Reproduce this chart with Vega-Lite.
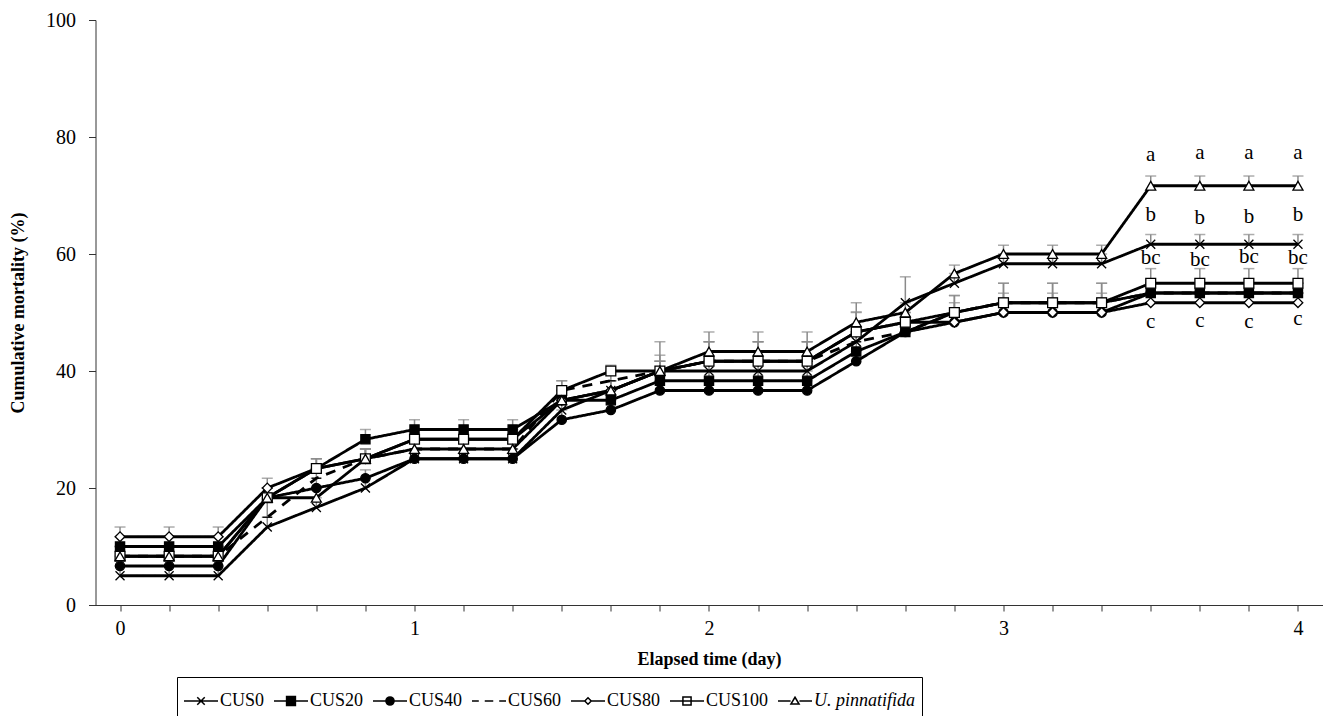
{
  "$schema": "https://vega.github.io/schema/vega-lite/v6.json",
  "width": 1227,
  "height": 585,
  "autosize": {"type": "none"},
  "padding": {"left": 95.5, "top": 20, "right": 5.5, "bottom": 111},
  "background": "white",
  "config": {
    "view": {"stroke": null},
    "font": "Liberation Serif",
    "axis": {
      "labelFont": "Liberation Serif",
      "titleFont": "Liberation Serif",
      "labelColor": "black",
      "titleColor": "black",
      "domainColor": "#333333",
      "tickColor": "#333333",
      "grid": false
    }
  },
  "datasets": {
    "main": [
      {"s":"CUS0","d":0,"v":5,"hi":6.67},{"s":"CUS0","d":0.1667,"v":5,"hi":6.67},{"s":"CUS0","d":0.3333,"v":5,"hi":6.67},{"s":"CUS0","d":0.5,"v":13.33,"hi":15},{"s":"CUS0","d":0.6667,"v":16.67,"hi":18.33},{"s":"CUS0","d":0.8333,"v":20,"hi":21.67},{"s":"CUS0","d":1,"v":25,"hi":26.67},{"s":"CUS0","d":1.1667,"v":25,"hi":26.67},{"s":"CUS0","d":1.3333,"v":25,"hi":26.67},{"s":"CUS0","d":1.5,"v":33.33,"hi":35},{"s":"CUS0","d":1.6667,"v":36.67,"hi":38.33},{"s":"CUS0","d":1.8333,"v":40,"hi":45},{"s":"CUS0","d":2,"v":40,"hi":41.67},{"s":"CUS0","d":2.1667,"v":40,"hi":41.67},{"s":"CUS0","d":2.3333,"v":40,"hi":41.67},{"s":"CUS0","d":2.5,"v":45,"hi":46.67},{"s":"CUS0","d":2.6667,"v":51.67,"hi":56.1},{"s":"CUS0","d":2.8333,"v":55,"hi":56.67},{"s":"CUS0","d":3,"v":58.33,"hi":60},{"s":"CUS0","d":3.1667,"v":58.33,"hi":60},{"s":"CUS0","d":3.3333,"v":58.33,"hi":60},{"s":"CUS0","d":3.5,"v":61.67,"hi":63.33},{"s":"CUS0","d":3.6667,"v":61.67,"hi":63.33},{"s":"CUS0","d":3.8333,"v":61.67,"hi":63.33},{"s":"CUS0","d":4,"v":61.67,"hi":63.33},
      {"s":"CUS20","d":0,"v":10,"hi":11.67},{"s":"CUS20","d":0.1667,"v":10,"hi":11.67},{"s":"CUS20","d":0.3333,"v":10,"hi":11.67},{"s":"CUS20","d":0.5,"v":18.33,"hi":20},{"s":"CUS20","d":0.6667,"v":23.33,"hi":25},{"s":"CUS20","d":0.8333,"v":28.33,"hi":30},{"s":"CUS20","d":1,"v":30,"hi":31.67},{"s":"CUS20","d":1.1667,"v":30,"hi":31.67},{"s":"CUS20","d":1.3333,"v":30,"hi":31.67},{"s":"CUS20","d":1.5,"v":35,"hi":36.67},{"s":"CUS20","d":1.6667,"v":35,"hi":36.67},{"s":"CUS20","d":1.8333,"v":38.33,"hi":40},{"s":"CUS20","d":2,"v":38.33,"hi":40},{"s":"CUS20","d":2.1667,"v":38.33,"hi":40},{"s":"CUS20","d":2.3333,"v":38.33,"hi":40},{"s":"CUS20","d":2.5,"v":43.33,"hi":45},{"s":"CUS20","d":2.6667,"v":46.67,"hi":48.33},{"s":"CUS20","d":2.8333,"v":50,"hi":52.9},{"s":"CUS20","d":3,"v":51.67,"hi":55},{"s":"CUS20","d":3.1667,"v":51.67,"hi":55},{"s":"CUS20","d":3.3333,"v":51.67,"hi":55},{"s":"CUS20","d":3.5,"v":53.33,"hi":55},{"s":"CUS20","d":3.6667,"v":53.33,"hi":55},{"s":"CUS20","d":3.8333,"v":53.33,"hi":55},{"s":"CUS20","d":4,"v":53.33,"hi":55},
      {"s":"CUS40","d":0,"v":6.67,"hi":8.33},{"s":"CUS40","d":0.1667,"v":6.67,"hi":8.33},{"s":"CUS40","d":0.3333,"v":6.67,"hi":8.33},{"s":"CUS40","d":0.5,"v":18.33,"hi":20},{"s":"CUS40","d":0.6667,"v":20,"hi":21.67},{"s":"CUS40","d":0.8333,"v":21.67,"hi":23.1},{"s":"CUS40","d":1,"v":25,"hi":26.67},{"s":"CUS40","d":1.1667,"v":25,"hi":26.67},{"s":"CUS40","d":1.3333,"v":25,"hi":26.67},{"s":"CUS40","d":1.5,"v":31.67,"hi":33.33},{"s":"CUS40","d":1.6667,"v":33.33,"hi":35},{"s":"CUS40","d":1.8333,"v":36.67,"hi":38.33},{"s":"CUS40","d":2,"v":36.67,"hi":38.33},{"s":"CUS40","d":2.1667,"v":36.67,"hi":38.33},{"s":"CUS40","d":2.3333,"v":36.67,"hi":38.33},{"s":"CUS40","d":2.5,"v":41.67,"hi":43.33},{"s":"CUS40","d":2.6667,"v":46.67,"hi":48.33},{"s":"CUS40","d":2.8333,"v":48.33,"hi":50},{"s":"CUS40","d":3,"v":50,"hi":51.67},{"s":"CUS40","d":3.1667,"v":50,"hi":51.67},{"s":"CUS40","d":3.3333,"v":50,"hi":51.67},{"s":"CUS40","d":3.5,"v":53.33,"hi":55},{"s":"CUS40","d":3.6667,"v":53.33,"hi":55},{"s":"CUS40","d":3.8333,"v":53.33,"hi":55},{"s":"CUS40","d":4,"v":53.33,"hi":55},
      {"s":"CUS60","d":0,"v":8.33,"hi":10},{"s":"CUS60","d":0.1667,"v":8.33,"hi":10},{"s":"CUS60","d":0.3333,"v":8.33,"hi":10},{"s":"CUS60","d":0.5,"v":15,"hi":18.33},{"s":"CUS60","d":0.6667,"v":21.67,"hi":23.33},{"s":"CUS60","d":0.8333,"v":25,"hi":26.67},{"s":"CUS60","d":1,"v":26.67,"hi":28.33},{"s":"CUS60","d":1.1667,"v":26.67,"hi":28.33},{"s":"CUS60","d":1.3333,"v":26.67,"hi":28.33},{"s":"CUS60","d":1.5,"v":36.67,"hi":38.33},{"s":"CUS60","d":1.6667,"v":38.33,"hi":40},{"s":"CUS60","d":1.8333,"v":40,"hi":42.7},{"s":"CUS60","d":2,"v":41.67,"hi":45},{"s":"CUS60","d":2.1667,"v":41.67,"hi":45},{"s":"CUS60","d":2.3333,"v":41.67,"hi":45},{"s":"CUS60","d":2.5,"v":45,"hi":46.67},{"s":"CUS60","d":2.6667,"v":46.67,"hi":48.33},{"s":"CUS60","d":2.8333,"v":50,"hi":51.67},{"s":"CUS60","d":3,"v":51.67,"hi":53.3},{"s":"CUS60","d":3.1667,"v":51.67,"hi":53.3},{"s":"CUS60","d":3.3333,"v":51.67,"hi":53.3},{"s":"CUS60","d":3.5,"v":53.33,"hi":55},{"s":"CUS60","d":3.6667,"v":53.33,"hi":55},{"s":"CUS60","d":3.8333,"v":53.33,"hi":55},{"s":"CUS60","d":4,"v":53.33,"hi":55},
      {"s":"CUS80","d":0,"v":11.67,"hi":13.33},{"s":"CUS80","d":0.1667,"v":11.67,"hi":13.33},{"s":"CUS80","d":0.3333,"v":11.67,"hi":13.33},{"s":"CUS80","d":0.5,"v":20,"hi":21.67},{"s":"CUS80","d":0.6667,"v":23.33,"hi":25},{"s":"CUS80","d":0.8333,"v":25,"hi":26.67},{"s":"CUS80","d":1,"v":28.33,"hi":30},{"s":"CUS80","d":1.1667,"v":28.33,"hi":30},{"s":"CUS80","d":1.3333,"v":28.33,"hi":30},{"s":"CUS80","d":1.5,"v":35,"hi":36.67},{"s":"CUS80","d":1.6667,"v":36.67,"hi":38.33},{"s":"CUS80","d":1.8333,"v":40,"hi":41.67},{"s":"CUS80","d":2,"v":41.67,"hi":45},{"s":"CUS80","d":2.1667,"v":41.67,"hi":45},{"s":"CUS80","d":2.3333,"v":41.67,"hi":45},{"s":"CUS80","d":2.5,"v":46.67,"hi":50},{"s":"CUS80","d":2.6667,"v":48.33,"hi":50},{"s":"CUS80","d":2.8333,"v":48.33,"hi":50},{"s":"CUS80","d":3,"v":50,"hi":51.67},{"s":"CUS80","d":3.1667,"v":50,"hi":51.67},{"s":"CUS80","d":3.3333,"v":50,"hi":51.67},{"s":"CUS80","d":3.5,"v":51.67,"hi":53.33},{"s":"CUS80","d":3.6667,"v":51.67,"hi":53.33},{"s":"CUS80","d":3.8333,"v":51.67,"hi":53.33},{"s":"CUS80","d":4,"v":51.67,"hi":53.33},
      {"s":"CUS100","d":0,"v":8.33,"hi":10},{"s":"CUS100","d":0.1667,"v":8.33,"hi":10},{"s":"CUS100","d":0.3333,"v":8.33,"hi":10},{"s":"CUS100","d":0.5,"v":18.33,"hi":20},{"s":"CUS100","d":0.6667,"v":23.33,"hi":25},{"s":"CUS100","d":0.8333,"v":25,"hi":26.67},{"s":"CUS100","d":1,"v":28.33,"hi":30},{"s":"CUS100","d":1.1667,"v":28.33,"hi":30},{"s":"CUS100","d":1.3333,"v":28.33,"hi":30},{"s":"CUS100","d":1.5,"v":36.67,"hi":38.33},{"s":"CUS100","d":1.6667,"v":40,"hi":41},{"s":"CUS100","d":1.8333,"v":40,"hi":41.67},{"s":"CUS100","d":2,"v":41.67,"hi":45},{"s":"CUS100","d":2.1667,"v":41.67,"hi":45},{"s":"CUS100","d":2.3333,"v":41.67,"hi":45},{"s":"CUS100","d":2.5,"v":46.67,"hi":50.1},{"s":"CUS100","d":2.6667,"v":48.33,"hi":50},{"s":"CUS100","d":2.8333,"v":50,"hi":52.9},{"s":"CUS100","d":3,"v":51.67,"hi":55},{"s":"CUS100","d":3.1667,"v":51.67,"hi":55},{"s":"CUS100","d":3.3333,"v":51.67,"hi":55},{"s":"CUS100","d":3.5,"v":55,"hi":57.5},{"s":"CUS100","d":3.6667,"v":55,"hi":57.5},{"s":"CUS100","d":3.8333,"v":55,"hi":57.5},{"s":"CUS100","d":4,"v":55,"hi":57.5},
      {"s":"U. pinnatifida","d":0,"v":8.33,"hi":10},{"s":"U. pinnatifida","d":0.1667,"v":8.33,"hi":10},{"s":"U. pinnatifida","d":0.3333,"v":8.33,"hi":10},{"s":"U. pinnatifida","d":0.5,"v":18.33,"hi":20},{"s":"U. pinnatifida","d":0.6667,"v":18.33,"hi":20},{"s":"U. pinnatifida","d":0.8333,"v":25,"hi":26.67},{"s":"U. pinnatifida","d":1,"v":26.67,"hi":28.33},{"s":"U. pinnatifida","d":1.1667,"v":26.67,"hi":28.33},{"s":"U. pinnatifida","d":1.3333,"v":26.67,"hi":28.33},{"s":"U. pinnatifida","d":1.5,"v":35,"hi":36.67},{"s":"U. pinnatifida","d":1.6667,"v":36.67,"hi":38.33},{"s":"U. pinnatifida","d":1.8333,"v":40,"hi":41.67},{"s":"U. pinnatifida","d":2,"v":43.33,"hi":46.67},{"s":"U. pinnatifida","d":2.1667,"v":43.33,"hi":46.67},{"s":"U. pinnatifida","d":2.3333,"v":43.33,"hi":46.67},{"s":"U. pinnatifida","d":2.5,"v":48.33,"hi":51.67},{"s":"U. pinnatifida","d":2.6667,"v":50,"hi":51.67},{"s":"U. pinnatifida","d":2.8333,"v":56.67,"hi":58.1},{"s":"U. pinnatifida","d":3,"v":60,"hi":61.5},{"s":"U. pinnatifida","d":3.1667,"v":60,"hi":61.5},{"s":"U. pinnatifida","d":3.3333,"v":60,"hi":61.5},{"s":"U. pinnatifida","d":3.5,"v":71.67,"hi":73.33},{"s":"U. pinnatifida","d":3.6667,"v":71.67,"hi":73.33},{"s":"U. pinnatifida","d":3.8333,"v":71.67,"hi":73.33},{"s":"U. pinnatifida","d":4,"v":71.67,"hi":73.33}
    ],
    "letters": [
      {"d":3.5,"y":77.0,"lbl":"a"},{"d":3.6667,"y":77.3,"lbl":"a"},{"d":3.8333,"y":77.3,"lbl":"a"},{"d":4,"y":77.3,"lbl":"a"},
      {"d":3.5,"y":66.7,"lbl":"b"},{"d":3.6667,"y":66.2,"lbl":"b"},{"d":3.8333,"y":66.4,"lbl":"b"},{"d":4,"y":66.7,"lbl":"b"},
      {"d":3.5,"y":59.3,"lbl":"bc"},{"d":3.6667,"y":59.0,"lbl":"bc"},{"d":3.8333,"y":59.5,"lbl":"bc"},{"d":4,"y":59.3,"lbl":"bc"},
      {"d":3.5,"y":48.4,"lbl":"c"},{"d":3.6667,"y":48.6,"lbl":"c"},{"d":3.8333,"y":48.4,"lbl":"c"},{"d":4,"y":48.9,"lbl":"c"}
    ]
  },
  "data": {"name": "main"},
  "resolve": {
    "scale": {"shape": "independent", "fill": "independent", "size": "independent", "strokeDash": "independent"},
    "legend": {"shape": "independent", "fill": "independent"}
  },
  "encoding": {
    "x": {
      "field": "d", "type": "quantitative",
      "scale": {"domain": [-0.0833, 4.0833], "nice": false, "zero": false},
      "axis": {
        "title": "Elapsed time (day)",
        "titleFontSize": 18, "titleFontWeight": "bold", "titlePadding": 12,
        "values": [0,0.1667,0.3333,0.5,0.6667,0.8333,1,1.1667,1.3333,1.5,1.6667,1.8333,2,2.1667,2.3333,2.5,2.6667,2.8333,3,3.1667,3.3333,3.5,3.6667,3.8333,4],
        "labelExpr": "abs(datum.value - round(datum.value)) < 0.01 ? toString(round(datum.value)) : ''",
        "labelFontSize": 20, "labelPadding": 7, "tickSize": 6, "labelFlush": false, "labelOverlap": false
      }
    }
  },
  "layer": [
    {
      "mark": {"type": "rule", "color": "#8a8a8a", "strokeWidth": 1.5},
      "encoding": {
        "y": {"field": "v", "type": "quantitative", "scale": {"domain": [0, 100], "nice": false},
          "axis": {"title": "Cumulative mortality (%)", "titleFontSize": 18, "titleFontWeight": "bold", "titlePadding": 18,
            "values": [0,20,40,60,80,100], "labelFontSize": 20, "labelPadding": 13, "tickSize": 7}},
        "y2": {"field": "hi"}
      }
    },
    {
      "mark": {"type": "tick", "orient": "horizontal", "color": "#8a8a8a", "size": 11, "thickness": 1.5},
      "encoding": {"y": {"field": "hi", "type": "quantitative"}}
    },
    {
      "mark": {"type": "line", "color": "black", "strokeWidth": 2.8},
      "encoding": {
        "y": {"field": "v", "type": "quantitative"},
        "detail": {"field": "s"},
        "strokeDash": {"field": "s", "type": "nominal", "legend": null,
          "scale": {"domain": ["CUS0","CUS20","CUS40","CUS60","CUS80","CUS100","U. pinnatifida"],
            "range": [[1,0],[1,0],[1,0],[10,8],[1,0],[1,0],[1,0]]}}
      }
    },
    {
      "mark": {"type": "point", "stroke": "black", "strokeWidth": 1.3, "opacity": 1},
      "encoding": {
        "y": {"field": "v", "type": "quantitative"},
        "shape": {"field": "s", "type": "nominal", "legend": null,
          "scale": {"domain": ["CUS0","CUS20","CUS40","CUS60","CUS80","CUS100","U. pinnatifida"],
            "range": ["M-1,-1L1,1M1,-1L-1,1", "square", "circle", "M-1,0L1,0", "diamond", "square", "triangle-up"]}},
        "fill": {"field": "s", "type": "nominal", "legend": null,
          "scale": {"domain": ["CUS0","CUS20","CUS40","CUS60","CUS80","CUS100","U. pinnatifida"],
            "range": ["transparent", "black", "black", "transparent", "white", "white", "white"]}},
        "size": {"field": "s", "type": "nominal", "legend": null,
          "scale": {"domain": ["CUS0","CUS20","CUS40","CUS60","CUS80","CUS100","U. pinnatifida"],
            "range": [81, 100, 90, 100, 64, 81, 90]}}
      }
    },
    {
      "transform": [{"filter": "datum.d == 0"}],
      "mark": {"type": "point", "opacity": 0, "stroke": "black", "filled": true},
      "encoding": {
        "y": {"field": "v", "type": "quantitative"},
        "shape": {"field": "s", "type": "nominal",
          "scale": {"domain": ["CUS0","CUS20","CUS40","CUS60","CUS80","CUS100","U. pinnatifida"],
            "range": [
              "M-1,0L1,0M-0.22,-0.22L0.22,0.22M0.22,-0.22L-0.22,0.22",
              "M-1,0L1,0M-0.26,-0.26L0.26,-0.26L0.26,0.26L-0.26,0.26Z",
              "M-1,0L1,0M0.24,0A0.24,0.24,0,1,1,-0.24,0A0.24,0.24,0,1,1,0.24,0Z",
              "M-1,0L-0.6,0M-0.25,0L0.25,0M0.6,0L1,0",
              "M-1,0L-0.19,0M0.19,0L1,0M-0.19,0L0,-0.19L0.19,0L0,0.19Z",
              "M-1,0L1,0M-0.24,-0.24L0.24,-0.24L0.24,0.24L-0.24,0.24Z",
              "M-1,0L-0.26,0M0.26,0L1,0M0,-0.22L0.24,0.18L-0.24,0.18Z"
            ]},
          "legend": {
            "orient": "none", "legendX": 81.5, "legendY": 657, "direction": "horizontal", "title": null,
            "symbolSize": 1156, "symbolStrokeWidth": 1.5, "symbolStrokeColor": "black", "symbolOpacity": 1,
            "labelFont": "Liberation Serif", "labelFontSize": 18, "labelColor": "black", "labelOffset": 1,
            "columnPadding": 6, "strokeColor": "black", "padding": 6, "labelLimit": 300,
            "encode": {"labels": {"update": {"fontStyle": {"signal": "datum.value === 'U. pinnatifida' ? 'italic' : 'normal'"}}}}
          }
        },
        "fill": {"field": "s", "type": "nominal",
          "scale": {"domain": ["CUS0","CUS20","CUS40","CUS60","CUS80","CUS100","U. pinnatifida"],
            "range": ["transparent", "black", "black", "transparent", "white", "white", "white"]},
          "legend": {
            "orient": "none", "legendX": 81.5, "legendY": 657, "direction": "horizontal", "title": null,
            "symbolSize": 1156, "symbolStrokeWidth": 1.5, "symbolStrokeColor": "black", "symbolOpacity": 1,
            "labelFont": "Liberation Serif", "labelFontSize": 18, "labelColor": "black", "labelOffset": 1,
            "columnPadding": 6, "strokeColor": "black", "padding": 6, "labelLimit": 300,
            "encode": {"labels": {"update": {"fontStyle": {"signal": "datum.value === 'U. pinnatifida' ? 'italic' : 'normal'"}}}}
          }
        }
      }
    },
    {
      "data": {"name": "letters"},
      "mark": {"type": "text", "font": "Liberation Serif", "fontSize": 21, "color": "black", "baseline": "middle", "align": "center"},
      "encoding": {
        "y": {"field": "y", "type": "quantitative"},
        "text": {"field": "lbl"}
      }
    }
  ]
}
